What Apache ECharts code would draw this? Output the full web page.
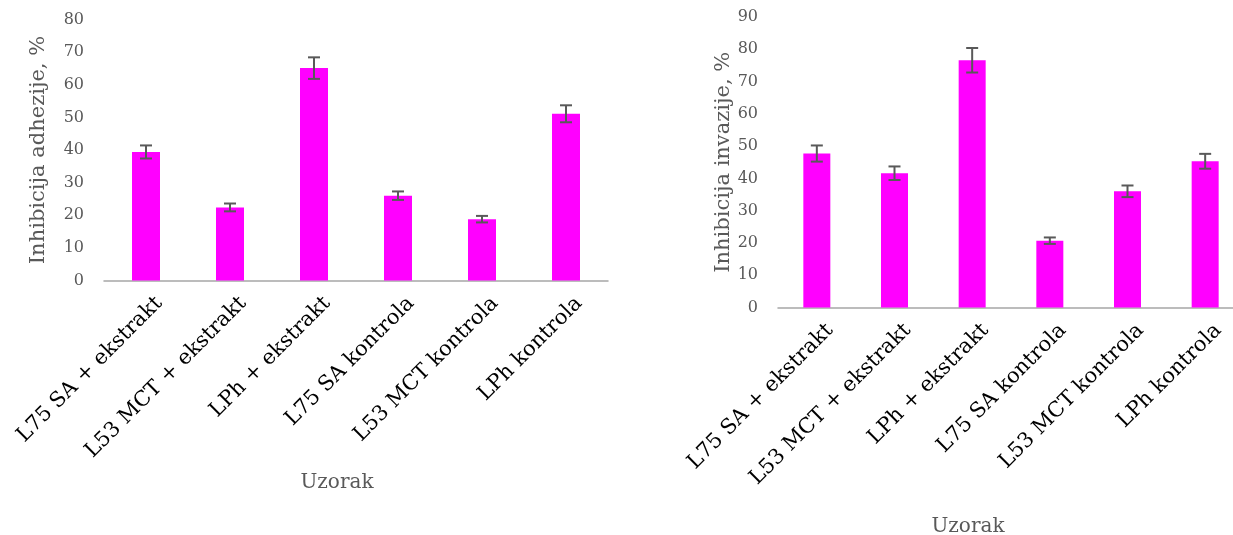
<!DOCTYPE html>
<html>
<head>
<meta charset="utf-8">
<script src="https://cdn.jsdelivr.net/npm/echarts@6/dist/echarts.min.js"></script>
<style>
  html, body { margin: 0; padding: 0; background: #ffffff; }
  #chart { width: 1233px; height: 535px; }
</style>
</head>
<body>
<div id="chart"></div>
<script>
const categories = ["L75 SA + ekstrakt", "L53 MCT + ekstrakt", "LPh + ekstrakt", "L75 SA kontrola", "L53 MCT kontrola", "LPh kontrola"];
const adhezija = [39.4, 22.4, 65.1, 26.0, 18.8, 51.1];
const adhezijaErr = [2.0, 1.2, 3.3, 1.3, 1.0, 2.6];
const invazija = [47.7, 41.6, 76.6, 20.7, 36.0, 45.3];
const invazijaErr = [2.5, 2.1, 3.8, 1.0, 1.8, 2.3];
const yTicksLeft = [0, 80, 10];
const yTicksRight = [0, 90, 10];
const titleLeft = "Inhibicija adhezije, %";
const titleRight = "Inhibicija invazije, %";
const xTitle = "Uzorak";

const FONT = "DejaVu Serif";
const chart = echarts.init(document.getElementById('chart'), null, { renderer: 'canvas' });

function errSeries(values, errs, xi, yi) {
  return {
    type: 'custom',
    xAxisIndex: xi, yAxisIndex: yi,
    z: 5,
    data: values.map((v, i) => [i, v, errs[i]]),
    renderItem: function (params, api) {
      const i = api.value(0), v = api.value(1), e = api.value(2);
      const top = api.coord([i, v + e]);
      const bot = api.coord([i, v - e]);
      const hw = 6;
      const style = { stroke: '#595959', lineWidth: 2 };
      return {
        type: 'group',
        children: [
          { type: 'line', shape: { x1: top[0], y1: top[1], x2: bot[0], y2: bot[1] }, style: style },
          { type: 'line', shape: { x1: top[0] - hw, y1: top[1], x2: top[0] + hw, y2: top[1] }, style: style },
          { type: 'line', shape: { x1: bot[0] - hw, y1: bot[1], x2: bot[0] + hw, y2: bot[1] }, style: style }
        ]
      };
    }
  };
}

function xAxisDef(gi, pad, gap) {
  return {
    type: 'category', gridIndex: gi, data: categories,
    axisLine: { lineStyle: { color: '#A6A6A6', width: 1.5 } },
    axisTick: { show: false },
    axisLabel: { rotate: 45, interval: 0, margin: 18, color: '#000000', fontFamily: FONT, fontSize: 21,
                 verticalAlign: 'top', padding: [0, -8, 0, 0] },
    name: xTitle, nameLocation: 'middle', nameGap: gap,
    nameTextStyle: { color: '#595959', fontFamily: FONT, fontSize: 20, padding: pad }
  };
}

function yAxisDef(gi, ticks, title, gap) {
  return {
    type: 'value', gridIndex: gi, min: ticks[0], max: ticks[1], interval: ticks[2],
    axisLine: { show: false }, axisTick: { show: false }, splitLine: { show: false },
    axisLabel: { color: '#595959', fontFamily: FONT, fontSize: 16, margin: 20 },
    name: title, nameLocation: 'middle', nameGap: gap, nameRotate: 90,
    nameTextStyle: { color: '#595959', fontFamily: FONT, fontSize: 21 }
  };
}

chart.setOption({
  animation: false,
  backgroundColor: '#ffffff',
  grid: [
    { left: 104, top: 19.5, width: 504, height: 261, outerBoundsMode: 'none', containLabel: false },
    { left: 778, top: 17, width: 466, height: 290.5, outerBoundsMode: 'none', containLabel: false }
  ],
  xAxis: [xAxisDef(0, [0, 38, 0, 0], 192), xAxisDef(1, [0, 86, 0, 0], 209)],
  yAxis: [yAxisDef(0, yTicksLeft, titleLeft, 55), yAxisDef(1, yTicksRight, titleRight, 37)],
  series: [
    { type: 'bar', xAxisIndex: 0, yAxisIndex: 0, data: adhezija, barWidth: 28, itemStyle: { color: '#FF00FF' } },
    { type: 'bar', xAxisIndex: 1, yAxisIndex: 1, data: invazija, barWidth: 27, itemStyle: { color: '#FF00FF' } },
    errSeries(adhezija, adhezijaErr, 0, 0),
    errSeries(invazija, invazijaErr, 1, 1)
  ]
});
</script>
</body>
</html>
